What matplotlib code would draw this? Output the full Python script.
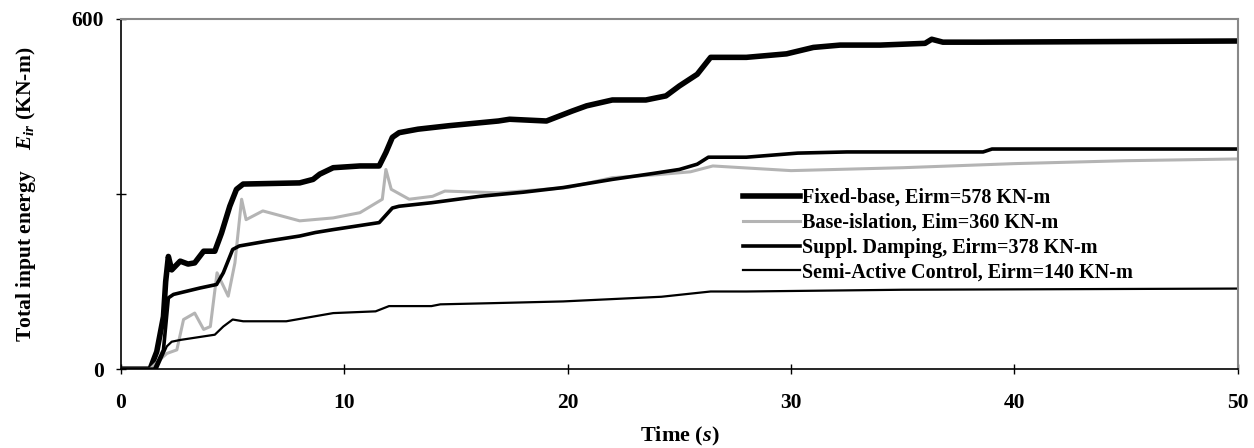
import matplotlib
matplotlib.use("Agg")
import matplotlib.pyplot as plt

plt.rcParams['font.family'] = ['Liberation Serif', 'DejaVu Serif']
plt.rcParams['font.weight'] = 'bold'
plt.rcParams['mathtext.fontset'] = 'custom'
plt.rcParams['mathtext.it'] = 'Liberation Serif:italic:bold'
plt.rcParams['mathtext.rm'] = 'Liberation Serif:bold'

# Input energy time histories (time in s, energy in KN-m)
t_fixed = [0, 1.3, 1.6, 1.9, 2.0, 2.12, 2.27, 2.65, 3.0, 3.3, 3.7, 4.2, 4.5, 4.87, 5.17,
           5.47, 8.0, 8.6, 8.9, 9.5, 10.7, 11.56, 11.86, 12.15, 12.45, 13.3, 14.7, 16.9,
           17.4, 19.05, 20.2, 20.85, 22.0, 23.5, 24.4, 25.0, 25.8, 26.4, 28.0, 29.8,
           31.0, 32.2, 34.0, 36.0, 36.3, 36.8, 38.5, 50]
e_fixed = [0, 0, 30, 90, 150, 193, 170, 185, 180, 182, 202, 202, 233, 279, 308,
           317, 319, 325, 334, 345, 348, 348, 371, 397, 405, 411, 417, 425,
           428, 425, 442, 451, 461, 461, 468, 485, 505, 534, 534, 540,
           551, 555, 555, 558, 565, 560, 560, 562]

t_base = [0, 1.3, 1.7, 2.06, 2.5, 2.8, 3.3, 3.7, 4.0, 4.3, 4.8, 5.1, 5.4, 5.6, 6.35,
          8.0, 9.5, 10.7, 11.7, 11.86, 12.1, 12.9, 13.95, 14.5, 16.9, 20.0, 22.0,
          24.0, 25.5, 26.5, 30.0, 35.0, 40.0, 45.0, 50]
e_base = [0, 0, 15, 27, 33, 85, 96, 68, 73, 165, 125, 182, 291, 256, 271,
          254, 259, 268, 291, 342, 308, 291, 296, 305, 302, 311, 328,
          333, 338, 348, 340, 345, 352, 357, 360]

t_suppl = [0, 1.5, 1.9, 2.12, 2.35, 3.54, 4.28, 4.58, 5.0, 5.3, 6.5, 8.0, 8.7, 9.5,
           11.56, 12.15, 12.45, 13.9, 16.07, 18.0, 19.8, 22.0, 23.8, 25.0, 25.8,
           26.3, 28.0, 30.3, 32.5, 38.6, 39.0, 50]
e_suppl = [0, 0, 33, 122, 128, 139, 145, 165, 205, 211, 219, 228, 234, 239,
           251, 276, 279, 285, 296, 303, 311, 325, 335, 342, 351,
           363, 363, 370, 372, 372, 377, 377]

t_semi = [0, 1.6, 2.05, 2.27, 2.65, 4.2, 4.58, 5.0, 5.47, 7.4, 9.5, 11.4, 12.0, 13.9,
          14.3, 16.6, 19.8, 24.2, 26.4, 28.0, 35, 50]
e_semi = [0, 0, 39, 47, 50, 59, 73, 85, 82, 82, 96, 99, 108, 108,
          111, 113, 116, 124, 133, 133, 136, 138]

labels = ["Fixed-base, Eirm=578 KN-m",
          "Base-islation, Eim=360 KN-m",
          "Suppl. Damping, Eirm=378 KN-m",
          "Semi-Active Control, Eirm=140 KN-m"]

fig = plt.figure(figsize=(12.54, 4.48), dpi=100)
ax = fig.add_axes([0.0965, 0.176, 0.8905, 0.782])

ax.plot(t_fixed, e_fixed, color='black', lw=4.0, solid_joinstyle='round', label=labels[0])
ax.plot(t_base, e_base, color='#b4b4b4', lw=2.2, label=labels[1])
ax.plot(t_suppl, e_suppl, color='black', lw=2.6, label=labels[2])
ax.plot(t_semi, e_semi, color='black', lw=1.6, label=labels[3])

ax.set_xlim(0, 50)
ax.set_ylim(0, 600)
ax.set_xticks([0, 10, 20, 30, 40, 50])
ax.set_yticks([0, 300, 600])
ax.set_yticklabels(['0', '', '600'])
ax.tick_params(axis='both', direction='inout', length=7, width=1, labelsize=15.5)
ax.tick_params(axis='x', pad=14)
ax.tick_params(axis='y', pad=9)

for s in ['top', 'right']:
    ax.spines[s].set_color('#888888')
    ax.spines[s].set_linestyle((0, (1, 1)))
    ax.spines[s].set_linewidth(1.5)
for s in ['left', 'bottom']:
    ax.spines[s].set_linewidth(1.2)

ax.set_xlabel(r"Time ($s$)", fontsize=16, fontweight='bold', labelpad=8)
ax.set_ylabel(r"Total input energy    $E_{ir}$ (KN-m)", fontsize=15.5,
              fontweight='bold', labelpad=24)

ax.legend(loc='upper left', bbox_to_anchor=(0.55, 0.54), frameon=False,
          fontsize=14.5, handlelength=2.8, handletextpad=0.1, labelspacing=0.24,
          borderaxespad=0)

fig.savefig("out.png", dpi=100)
